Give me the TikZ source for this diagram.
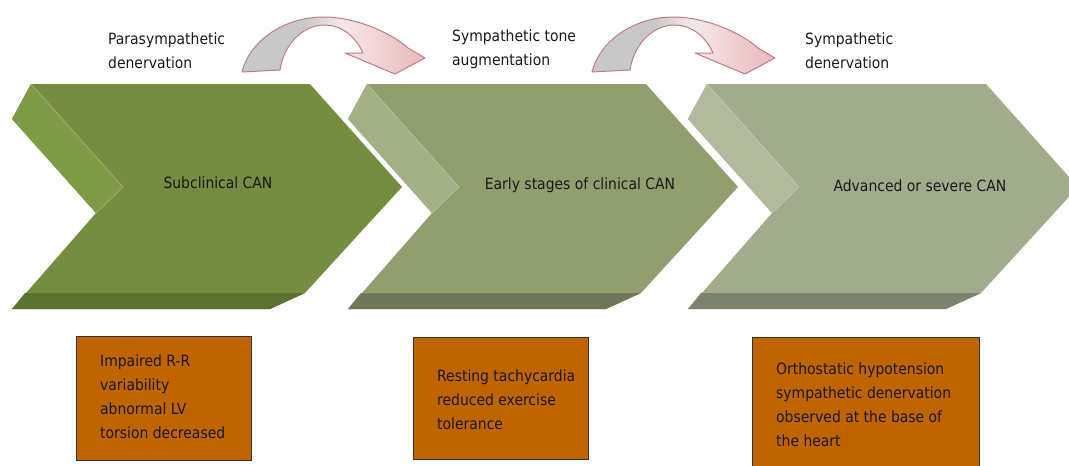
\documentclass[tikz,border=0pt]{standalone}
\usepackage{fontspec}
\setmainfont{DejaVu Sans Condensed}
\definecolor{cfa}{RGB}{118,140,64}
\definecolor{cba}{RGB}{127,154,70}
\definecolor{cda}{RGB}{92,114,48}
\definecolor{cfb}{RGB}{145,159,111}
\definecolor{cbb}{RGB}{162,176,134}
\definecolor{cdb}{RGB}{110,119,88}
\definecolor{cfc}{RGB}{160,172,140}
\definecolor{cbc}{RGB}{177,186,157}
\definecolor{cdc}{RGB}{124,132,112}
\definecolor{boxfill}{RGB}{192,100,0}
\definecolor{agray}{RGB}{200,200,200}
\definecolor{apinkl}{RGB}{246,232,232}
\definecolor{apink}{RGB}{232,178,182}
\definecolor{apinkd}{RGB}{220,160,165}
\definecolor{astroke}{RGB}{190,125,132}
\pgfdeclarehorizontalshading{arrshade}{100bp}{color(0bp)=(agray); color(42bp)=(agray); color(52bp)=(apinkl); color(78bp)=(apink); color(100bp)=(apinkd)}
\newcommand\mychev[4]{%
  \fill[#2] ({#1+19},84) -- ({#1+298},84) -- ({#1+390},187) -- ({#1+293},293) -- ({#1+258},309) -- (#1,309) -- ({#1+84},213) -- (#1,119) -- cycle;
  \fill[#3] ({#1+19},84) -- ({#1+111},187) -- ({#1+84},213) -- (#1,119) -- cycle;
  \draw[white,opacity=0.25,line width=0.8pt] ({#1+19},84) -- ({#1+111},187) -- ({#1+84},213);
  \fill[#4] ({#1+13},293) -- ({#1+293},293) -- ({#1+258},309) -- (#1,309) -- cycle;
}
\newcommand\myarrow[1]{%
  \begin{scope}[xshift=#1]
  \draw[astroke,line width=1pt,line join=round,shading=arrshade]
    (242,72) .. controls (250,40) and (285,17) .. (323,17)
    .. controls (355,17) and (390,32) .. (408,48) -- (425,58) -- (395,74) -- (345,53) -- (363,53)
    .. controls (355,35) and (340,25) .. (325,25)
    .. controls (300,25) and (283,48) .. (280,70) -- cycle;
  \end{scope}}
\tikzset{
  lbl/.style={font=\fontsize{15.5}{24}\selectfont, align=left, inner sep=0pt, anchor=north west, text=black!90},
  ctr/.style={font=\fontsize{15.5}{24}\selectfont, inner sep=0pt, text=black!90},
  obox/.style={draw=black!80, line width=0.8pt, fill=boxfill}
}
\begin{document}
\begin{tikzpicture}[x=1pt,y=-1pt]
\useasboundingbox (0,0) rectangle (1069,466);
\begin{scope}
\clip (0,0) rectangle (1069,466);
\mychev{12}{cfa}{cba}{cda}
\mychev{348}{cfb}{cbb}{cdb}
\mychev{688}{cfc}{cbc}{cdc}
\myarrow{0}
\myarrow{350}
\draw[obox] (76,336) rectangle (251,460);
\draw[obox] (413,337) rectangle (588,459);
\draw[obox] (752,337) rectangle (979,475);
\end{scope}
\node[ctr] (c1) at (218,183) {Subclinical CAN};
\node[ctr] (c2) at (580,185) {Early stages of clinical CAN};
\node[ctr] (c3) at (920,186) {Advanced or severe CAN};
\node[lbl] (t1) at (108,33) {Parasympathetic\\denervation};
\node[lbl] (t2) at (452,30) {Sympathetic tone\\augmentation};
\node[lbl] (t3) at (805,33) {Sympathetic\\denervation};
\node[lbl] (b1) at (100,355) {Impaired R-R\\variability\\abnormal LV\\torsion decreased};
\node[lbl] (b2) at (437,370) {Resting tachycardia\\reduced exercise\\tolerance};
\node[lbl] (b3) at (776,363) {Orthostatic hypotension\\sympathetic denervation\\observed at the base of\\the heart};
\end{tikzpicture}
\end{document}
